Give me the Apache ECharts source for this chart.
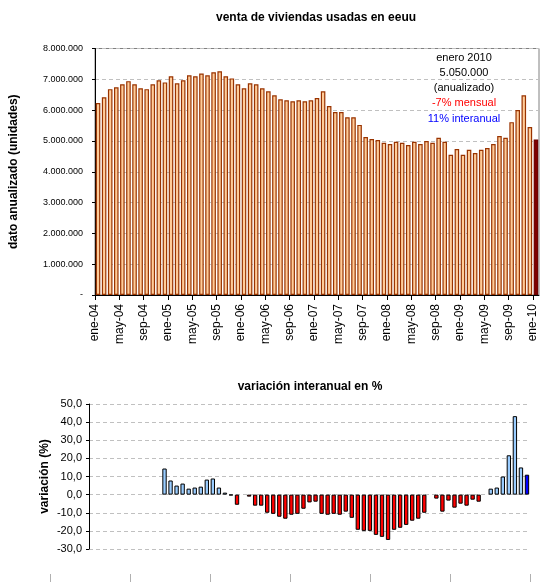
<!DOCTYPE html>
<html>
<head>
<meta charset="utf-8">
<script src="https://cdn.jsdelivr.net/npm/echarts@6/dist/echarts.min.js"></script>
<style>html,body{margin:0;padding:0;background:#fff}#c{width:546px;height:582px}</style>
</head>
<body>
<div id="c"></div>
<script>
// ---- data ----
const monthNames = ['ene','feb','mar','abr','may','jun','jul','ago','sep','oct','nov','dic'];
const firstYear = 2004, monthCount = 73; // ene-04 .. ene-10
const months = [];
for (let i = 0; i < monthCount; i++) {
  const y = firstYear + Math.floor(i / 12);
  months.push(monthNames[i % 12] + '-' + String(y % 100).padStart(2, '0'));
}
const tickLabels = ['ene-04','may-04','sep-04','ene-05','may-05','sep-05','ene-06','may-06','sep-06',
  'ene-07','may-07','sep-07','ene-08','may-08','sep-08','ene-09','may-09','sep-09','ene-10'];

// existing home sales, annualised units
const sales = [
  6230000, 6420000, 6680000, 6740000, 6840000, 6940000, 6840000, 6710000, 6680000, 6840000, 6970000, 6900000,
  7100000, 6870000, 6970000, 7130000, 7100000, 7190000, 7130000, 7230000, 7260000, 7100000, 7030000, 6840000,
  6710000, 6870000, 6840000, 6710000, 6610000, 6480000, 6350000, 6320000, 6290000, 6320000, 6290000, 6320000,
  6390000, 6610000, 6130000, 5940000, 5940000, 5770000, 5770000, 5520000, 5130000, 5060000, 5030000, 4940000,
  4900000, 4970000, 4940000, 4870000, 4970000, 4900000, 5000000, 4940000, 5100000, 4970000, 4550000, 4740000,
  4550000, 4710000, 4610000, 4710000, 4770000, 4900000, 5160000, 5100000, 5610000, 6000000, 6480000, 5450000,
  5050000
];
// year-on-year change in %, from ene-05 to ene-10
const yoy = [
  14.4, 7.8, 5.0, 6.1, 3.3, 3.9, 4.4, 8.3, 8.9, 3.9, 1.1, -0.4,
  -5.6, 0, -1.1, -6.1, -6.1, -10.0, -10.6, -12.2, -13.3, -11.1, -10.6, -7.8,
  -4.3, -3.9, -10.6, -11.1, -10.6, -11.1, -9.4, -12.8, -19.4, -20.0, -20.0, -22.2,
  -23.3, -25.0, -19.4, -18.3, -16.7, -14.4, -13.3, -10.0, 0, -2.2, -9.4, -3.3,
  -7.2, -5.0, -6.1, -2.8, -3.9, 0, 3.3, 3.9, 10.0, 21.7, 43.3, 15.0,
  11.0
];
const yoyOffset = months.length - yoy.length; // first 12 months have no yoy value
const noteLines = ['enero 2010', '5.050.000', '(anualizado)', '-7% mensual', '11% interanual'];
const noteColors = ['#000', '#000', '#000', '#ff0000', '#0000ff'];

// ---- build ----
const FONT = "'Liberation Sans', Arial, sans-serif";
const boundaries = [];
for (let i = 0; i <= months.length; i++) boundaries.push(i % 4 === 0 ? tickLabels[i / 4] : '');

const salesData = sales.map((v, i) => i === sales.length - 1
  ? { value: v, itemStyle: { color: '#800000', borderColor: '#6a0000' } }
  : v);

const yoyData = months.map((m, i) => {
  if (i < yoyOffset) return null;
  const v = yoy[i - yoyOffset];
  const last = i === months.length - 1;
  return {
    value: v,
    itemStyle: {
      color: last ? '#0000ff' : (v >= 0 ? '#99ccff' : '#ff0000'),
      borderColor: '#000',
      borderWidth: v === 0 ? 0 : 1
    }
  };
});

const dotFmt = v => v === 0 ? '-' : String(v).replace(/\B(?=(\d{3})+(?!\d))/g, '.');
const commaFmt = v => v.toFixed(1).replace('.', ',');

const graphics = [
  { type: 'text', x: 316, y: 18, style: { text: 'venta de viviendas usadas en eeuu', font: 'bold 12px ' + FONT, fill: '#000', align: 'center', verticalAlign: 'middle' } },
  { type: 'text', x: 310, y: 387, style: { text: 'variación interanual en %', font: 'bold 12px ' + FONT, fill: '#000', align: 'center', verticalAlign: 'middle' } }
];
noteLines.forEach((t, i) => graphics.push({
  type: 'text', x: 464, y: 57.5 + i * 15.3,
  style: { text: t, font: '11px ' + FONT, fill: noteColors[i], align: 'center', verticalAlign: 'middle' }
}));

const option = {
  animation: false,
  backgroundColor: '#ffffff',
  textStyle: { fontFamily: FONT },
  graphic: graphics,
  grid: [
    { left: 88, top: 48.5, width: 451, height: 246.5, show: true, borderColor: '#808080', borderWidth: 1, backgroundColor: 'transparent' },
    { left: 89, top: 404, width: 441, height: 145 },
    { left: 50, top: 573, width: 480, height: 1 }
  ],
  xAxis: [
    { gridIndex: 0, type: 'category', data: months, boundaryGap: true, position: 'bottom',
      axisLine: { show: true, lineStyle: { color: '#000', width: 1 } },
      axisTick: { show: false }, axisLabel: { show: false }, splitLine: { show: false } },
    { gridIndex: 0, type: 'category', data: boundaries, boundaryGap: false, position: 'bottom',
      axisLine: { show: false },
      axisTick: { show: true, interval: (i) => i % 4 === 0, length: 5, lineStyle: { color: '#000' } },
      axisLabel: { show: true, interval: 0, rotate: 90, fontSize: 12, color: '#000', margin: 9, fontFamily: FONT },
      splitLine: { show: false } },
    { gridIndex: 1, type: 'category', data: months, boundaryGap: true, show: false },
    { gridIndex: 2, type: 'category', data: ['', '', '', '', '', ''], boundaryGap: true,
      axisLine: { show: false },
      axisTick: { show: true, length: 8, lineStyle: { color: '#b0b0b0' } },
      axisLabel: { show: false }, splitLine: { show: false } }
  ],
  yAxis: [
    { gridIndex: 0, type: 'value', min: 0, max: 8000000, interval: 1000000,
      name: 'dato anualizado (unidades)', nameLocation: 'middle', nameGap: 75,
      nameTextStyle: { fontSize: 12, fontWeight: 'bold', color: '#000', fontFamily: FONT },
      axisLine: { show: true, lineStyle: { color: '#000' } },
      axisTick: { show: true, length: 3, lineStyle: { color: '#000' } },
      axisLabel: { fontSize: 9, color: '#000', margin: 12, formatter: dotFmt, fontFamily: FONT },
      splitLine: { show: true, lineStyle: { color: '#c0c0c0', type: [4, 3], width: 1 } } },
    { gridIndex: 1, type: 'value', min: -30, max: 50, interval: 10,
      name: 'variación (%)', nameLocation: 'middle', nameGap: 38, nameMoveOverlap: false,
      nameTextStyle: { fontSize: 12, fontWeight: 'bold', color: '#000', fontFamily: FONT },
      axisLine: { show: true, onZero: false, lineStyle: { color: '#000' } },
      axisTick: { show: true, length: 3, lineStyle: { color: '#000' } },
      axisLabel: { fontSize: 11, color: '#000', margin: 7, formatter: commaFmt, fontFamily: FONT },
      splitLine: { show: true, lineStyle: { color: '#c0c0c0', type: [4, 3], width: 1 } } },
    { gridIndex: 2, type: 'value', show: false }
  ],
  series: [
    { type: 'bar', xAxisIndex: 0, yAxisIndex: 0, data: salesData, barCategoryGap: '25%',
      itemStyle: { color: '#ffcc99', borderColor: '#993300', borderWidth: 1.2 } },
    { type: 'bar', xAxisIndex: 2, yAxisIndex: 1, data: yoyData, barCategoryGap: '28%' }
  ]
};

const chart = echarts.init(document.getElementById('c'), null, { renderer: 'canvas' });
chart.setOption(option);
</script>
</body>
</html>
